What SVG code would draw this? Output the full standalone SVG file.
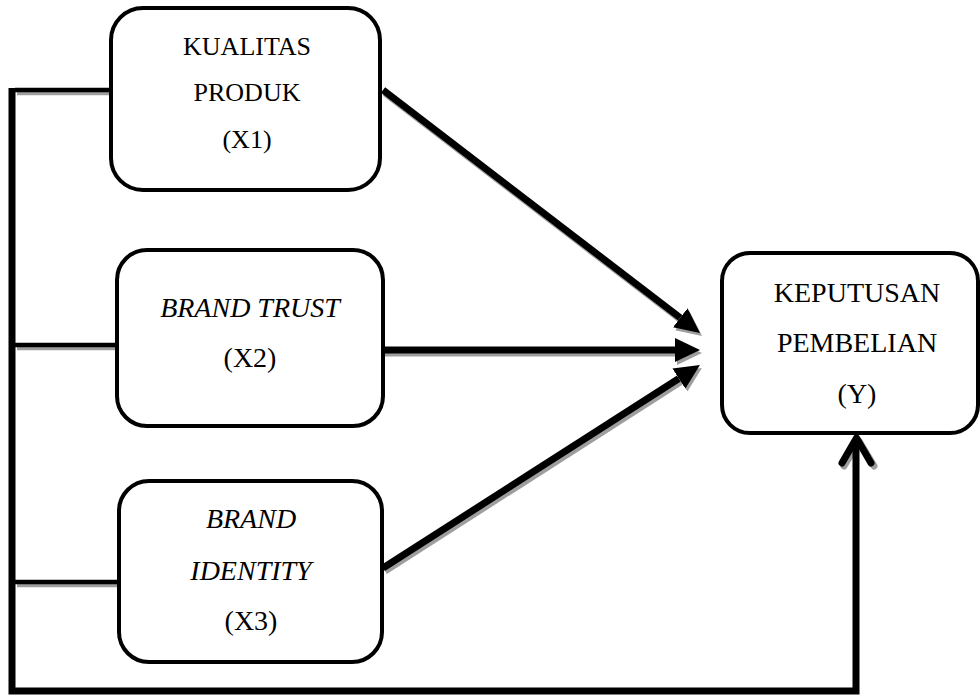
<svg xmlns="http://www.w3.org/2000/svg" width="980" height="696" viewBox="0 0 980 696">
<style>
.box{fill:#fff;stroke:#000;stroke-width:4}
.t{font-family:"Liberation Serif","Times New Roman",serif;fill:#000;text-anchor:middle}
.t1{font-size:26px}
.t2{font-size:28px}
.it{font-style:italic}
.ln{fill:none;stroke:#000}
.sh{fill:none;stroke:#9e9e9e}
</style>
<defs>
<marker id="ah" viewBox="0 0 25 24" refX="0" refY="12" markerWidth="25" markerHeight="24" markerUnits="userSpaceOnUse" orient="auto"><path d="M0,0 L25,12 L0,24 z" fill="#000"/></marker>
<marker id="ahs" viewBox="0 0 25 24" refX="0" refY="12" markerWidth="25" markerHeight="24" markerUnits="userSpaceOnUse" orient="auto"><path d="M0,0 L25,12 L0,24 z" fill="#9e9e9e"/></marker>
</defs>
<g id="connectors">
  <g transform="translate(2,3)">
    <path class="sh" stroke-width="4.5" d="M15,90 H111 M15,345 H117 M15,582 H119"/>
    <path class="sh" stroke-width="7" d="M383,90 L680.2,317.8" marker-end="url(#ahs)"/>
    <path class="sh" stroke-width="7" d="M383,350 L675,350" marker-end="url(#ahs)"/>
    <path class="sh" stroke-width="7" d="M383,568 L678.9,378.5" marker-end="url(#ahs)"/>
    <path class="sh" stroke-width="7" stroke-linecap="round" stroke-linejoin="round" d="M842,463 L857,438 L872,463"/>
  </g>
  <path class="ln" stroke-width="7" d="M12,88 V691 H856 V440"/>
  <path class="ln" stroke-width="7" stroke-linecap="round" stroke-linejoin="round" d="M842,463 L856.5,438 L871,463"/>
  <path class="ln" stroke-width="4.5" d="M15,90 H111 M15,345 H117 M15,582 H119"/>
  <path class="ln" stroke-width="7" d="M383,90 L680.2,317.8" marker-end="url(#ah)"/>
  <path class="ln" stroke-width="7" d="M383,350 L675,350" marker-end="url(#ah)"/>
  <path class="ln" stroke-width="7" d="M383,568 L678.9,378.5" marker-end="url(#ah)"/>
</g>
<g id="x1">
  <rect class="box" x="111" y="8" width="269" height="182" rx="32"/>
  <text class="t t1" x="247" y="55">KUALITAS</text>
  <text class="t t1" x="247" y="101">PRODUK</text>
  <text class="t t1" x="247" y="148">(X1)</text>
</g>
<g id="x2">
  <rect class="box" x="117" y="250" width="266" height="176" rx="30"/>
  <text class="t t2 it" x="250" y="317">BRAND TRUST</text>
  <text class="t t2" x="250" y="367">(X2)</text>
</g>
<g id="x3">
  <rect class="box" x="119" y="481" width="263" height="181" rx="30"/>
  <text class="t t2 it" x="251" y="528">BRAND</text>
  <text class="t t2 it" x="251" y="580">IDENTITY</text>
  <text class="t t2" x="251" y="630">(X3)</text>
</g>
<g id="y">
  <rect class="box" x="722" y="253" width="256" height="180" rx="28"/>
  <text class="t t2" x="857" y="302">KEPUTUSAN</text>
  <text class="t t2" x="857" y="352">PEMBELIAN</text>
  <text class="t t2" x="857" y="403">(Y)</text>
</g>
</svg>
